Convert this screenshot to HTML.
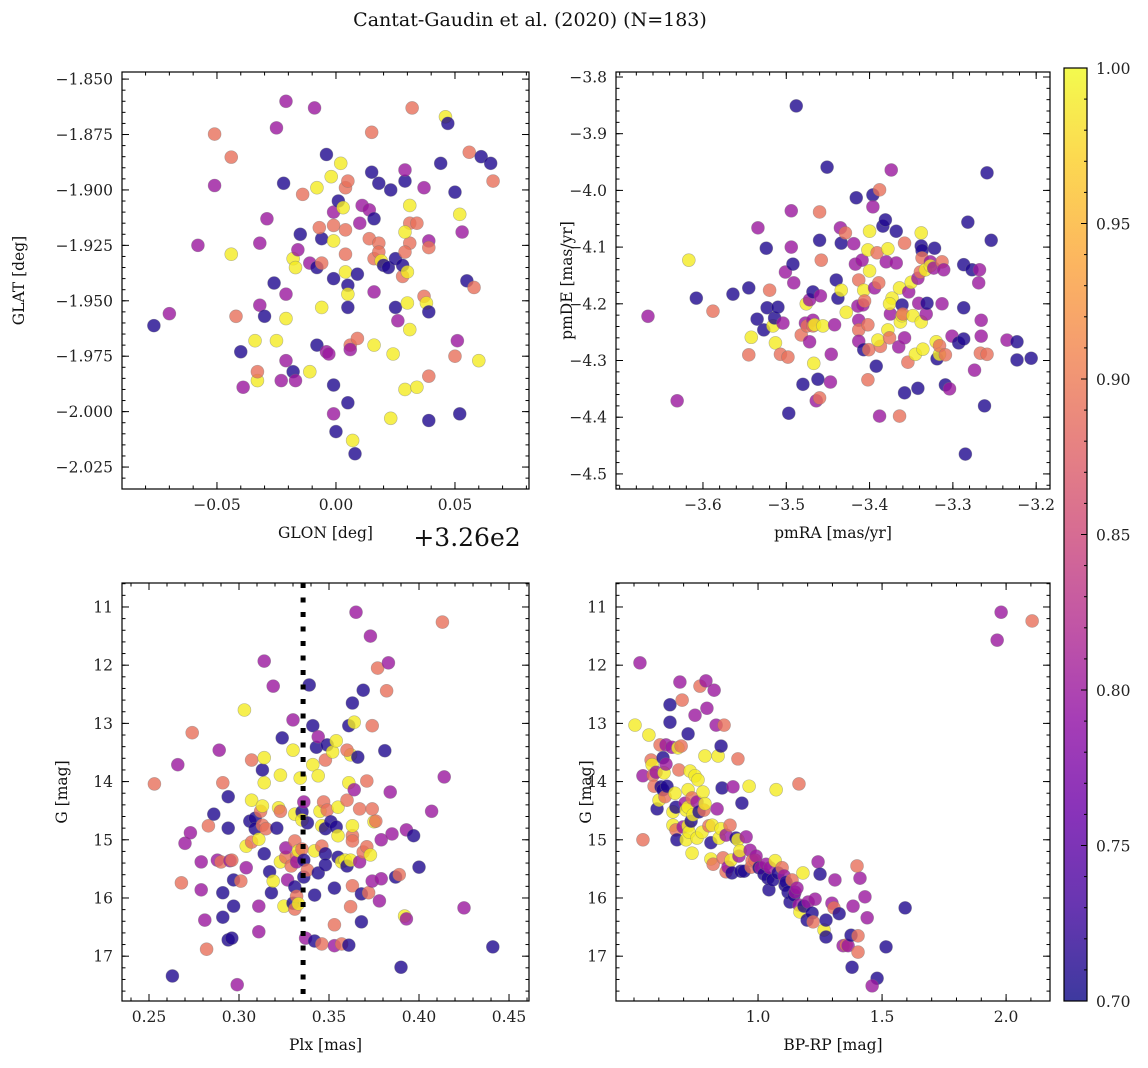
<!DOCTYPE html>
<html><head><meta charset="utf-8"><title>Cantat-Gaudin et al. (2020)</title>
<style>
html,body{margin:0;padding:0;background:#fff;}
svg{display:block;font-family:"DejaVu Serif","Liberation Serif",serif;}
</style></head>
<body>
<svg id="fig" width="1148" height="1068" viewBox="0 0 1148 1068" xmlns="http://www.w3.org/2000/svg">
<rect width="1148" height="1068" fill="#fff"/>
<text x="530" y="26" font-size="19" text-anchor="middle" fill="#111">Cantat-Gaudin et al. (2020) (N=183)</text>
</svg>
<script>
// ---------- Panel 1: GLON offset (deg, relative to 326) vs GLAT ----------
const glonOff=[-0.0765,-0.070,-0.051,-0.044,-0.051,-0.058,-0.044,-0.042,-0.040,-0.039,-0.034,-0.033,-0.033,-0.032,-0.030,-0.032,-0.029,-0.026,-0.025,-0.021,-0.025,-0.022,-0.021,-0.021,-0.021,-0.023,-0.018,-0.017,-0.018,-0.017,-0.016,-0.015,-0.014,-0.009,-0.011,-0.011,-0.008,-0.008,-0.008,-0.006,-0.006,-0.006,-0.007,-0.004,-0.004,-0.003,-0.001,-0.001,-0.001,-0.001,-0.002,-0.001,-0.001,0.000,0.001,0.002,0.004,0.005,0.003,0.004,0.004,0.004,0.005,0.005,0.005,0.006,0.006,0.005,0.007,0.008,0.009,0.009,0.010,0.011,0.014,0.015,0.015,0.014,0.016,0.016,0.016,0.016,0.018,0.018,0.018,0.019,0.020,0.022,0.023,0.023,0.024,0.025,0.025,0.026,0.028,0.029,0.029,0.028,0.030,0.030,0.031,0.031,0.029,0.031,0.031,0.029,0.029,0.032,0.034,0.034,0.037,0.037,0.038,0.039,0.039,0.039,0.039,0.039,0.044,0.046,0.047,0.050,0.051,0.050,0.052,0.053,0.052,0.055,0.056,0.058,0.061,0.060,0.065,0.066];
const glat=[-1.9612,-1.9558,-1.8748,-1.8852,-1.898,-1.925,-1.929,-1.957,-1.973,-1.989,-1.968,-1.986,-1.982,-1.952,-1.957,-1.924,-1.913,-1.942,-1.968,-1.860,-1.872,-1.897,-1.947,-1.958,-1.977,-1.986,-1.982,-1.986,-1.931,-1.935,-1.927,-1.920,-1.902,-1.863,-1.933,-1.982,-1.970,-1.935,-1.899,-1.933,-1.953,-1.922,-1.917,-1.884,-1.973,-1.974,-1.940,-1.988,-1.916,-1.910,-1.894,-1.923,-2.001,-2.009,-1.905,-1.888,-1.899,-1.896,-1.908,-1.918,-1.929,-1.937,-1.943,-1.947,-1.953,-1.970,-1.972,-1.996,-2.013,-2.019,-1.967,-1.938,-1.915,-1.907,-1.922,-1.874,-1.892,-1.909,-1.913,-1.931,-1.946,-1.970,-1.924,-1.897,-1.928,-1.932,-1.934,-1.935,-1.900,-2.003,-1.974,-1.931,-1.953,-1.959,-1.939,-1.896,-1.891,-1.934,-1.937,-1.951,-1.963,-1.924,-1.990,-1.907,-1.915,-1.919,-1.928,-1.863,-1.989,-1.915,-1.899,-1.948,-1.951,-1.923,-1.926,-1.984,-1.955,-2.004,-1.888,-1.867,-1.870,-1.901,-1.968,-1.975,-1.911,-1.919,-2.001,-1.941,-1.883,-1.944,-1.885,-1.977,-1.888,-1.896];
const prob1=[0.71,0.80,0.89,0.89,0.80,0.80,0.99,0.89,0.71,0.80,0.99,0.99,0.89,0.80,0.71,0.80,0.80,0.71,0.99,0.80,0.80,0.71,0.80,0.99,0.80,0.80,0.71,0.80,0.99,0.99,0.80,0.71,0.89,0.80,0.80,0.99,0.71,0.71,0.99,0.89,0.99,0.71,0.89,0.71,0.80,0.80,0.71,0.71,0.89,0.80,0.99,0.99,0.80,0.71,0.71,0.99,0.89,0.89,0.99,0.89,0.89,0.99,0.71,0.99,0.71,0.89,0.80,0.71,0.99,0.71,0.89,0.71,0.80,0.80,0.89,0.89,0.71,0.80,0.71,0.89,0.80,0.99,0.89,0.71,0.89,0.99,0.71,0.71,0.71,0.99,0.99,0.71,0.71,0.80,0.89,0.71,0.80,0.71,0.99,0.99,0.99,0.89,0.99,0.99,0.89,0.99,0.89,0.89,0.99,0.89,0.80,0.89,0.99,0.80,0.89,0.89,0.71,0.71,0.71,0.99,0.71,0.71,0.80,0.89,0.99,0.80,0.71,0.71,0.89,0.89,0.71,0.99,0.71,0.89];

// ---------- Panel 2: pmRA vs pmDE ----------
const pmra=[-3.631,-3.666,-3.617,-3.608,-3.588,-3.564,-3.545,-3.545,-3.542,-3.535,-3.534,-3.527,-3.524,-3.523,-3.520,-3.516,-3.514,-3.513,-3.510,-3.507,-3.504,-3.501,-3.498,-3.497,-3.494,-3.494,-3.492,-3.491,-3.488,-3.480,-3.477,-3.476,-3.482,-3.475,-3.472,-3.472,-3.468,-3.468,-3.468,-3.467,-3.466,-3.462,-3.464,-3.460,-3.459,-3.458,-3.456,-3.460,-3.460,-3.451,-3.447,-3.446,-3.440,-3.442,-3.438,-3.434,-3.434,-3.435,-3.429,-3.428,-3.419,-3.416,-3.413,-3.417,-3.414,-3.413,-3.413,-3.413,-3.409,-3.407,-3.407,-3.408,-3.406,-3.400,-3.402,-3.400,-3.402,-3.402,-3.401,-3.396,-3.396,-3.394,-3.392,-3.391,-3.387,-3.389,-3.390,-3.380,-3.388,-3.388,-3.384,-3.381,-3.378,-3.378,-3.376,-3.375,-3.373,-3.376,-3.374,-3.368,-3.368,-3.364,-3.363,-3.365,-3.364,-3.361,-3.361,-3.360,-3.354,-3.358,-3.358,-3.358,-3.353,-3.350,-3.348,-3.345,-3.342,-3.339,-3.338,-3.341,-3.342,-3.338,-3.337,-3.338,-3.336,-3.332,-3.331,-3.337,-3.333,-3.327,-3.327,-3.323,-3.322,-3.319,-3.320,-3.316,-3.316,-3.313,-3.311,-3.313,-3.309,-3.309,-3.304,-3.301,-3.293,-3.287,-3.287,-3.287,-3.285,-3.282,-3.277,-3.274,-3.269,-3.267,-3.268,-3.266,-3.266,-3.262,-3.259,-3.254,-3.259,-3.235,-3.223,-3.223,-3.206];
const pmde=[-4.371,-4.222,-4.123,-4.190,-4.213,-4.183,-4.290,-4.172,-4.259,-4.227,-4.066,-4.246,-4.102,-4.207,-4.176,-4.239,-4.225,-4.269,-4.206,-4.289,-4.234,-4.144,-4.294,-4.393,-4.100,-4.036,-4.130,-4.163,-3.851,-4.342,-4.234,-4.200,-4.255,-4.239,-4.193,-4.267,-4.179,-4.229,-4.239,-4.305,-4.237,-4.333,-4.371,-4.366,-4.186,-4.123,-4.239,-4.088,-4.038,-3.959,-4.338,-4.289,-4.158,-4.237,-4.190,-4.176,-4.093,-4.066,-4.075,-4.215,-4.094,-4.013,-4.158,-4.130,-4.204,-4.229,-4.246,-4.266,-4.123,-4.281,-4.176,-4.202,-4.195,-4.072,-4.105,-4.142,-4.237,-4.334,-4.281,-4.008,-4.029,-4.172,-4.310,-4.110,-4.275,-4.163,-4.264,-4.126,-4.398,-3.999,-4.063,-4.052,-4.103,-4.246,-4.260,-4.218,-4.190,-4.200,-3.964,-4.128,-4.072,-4.172,-4.232,-4.276,-4.398,-4.202,-4.221,-4.218,-4.303,-4.093,-4.357,-4.260,-4.179,-4.162,-4.221,-4.289,-4.155,-4.144,-4.098,-4.199,-4.349,-4.075,-4.106,-4.232,-4.280,-4.218,-4.199,-4.119,-4.140,-4.126,-4.133,-4.137,-4.102,-4.297,-4.267,-4.289,-4.274,-4.126,-4.140,-4.200,-4.290,-4.343,-4.350,-4.257,-4.269,-4.207,-4.131,-4.262,-4.465,-4.056,-4.140,-4.317,-4.163,-4.287,-4.140,-4.229,-4.257,-4.380,-4.289,-4.088,-3.969,-4.264,-4.267,-4.299,-4.296];
const prob2=[0.80,0.80,0.99,0.71,0.89,0.71,0.89,0.71,0.99,0.71,0.80,0.71,0.71,0.71,0.89,0.99,0.71,0.99,0.71,0.89,0.80,0.80,0.89,0.71,0.80,0.80,0.71,0.80,0.71,0.71,0.80,0.99,0.89,0.89,0.80,0.80,0.71,0.80,0.89,0.99,0.99,0.71,0.80,0.89,0.80,0.89,0.99,0.71,0.89,0.71,0.80,0.80,0.71,0.80,0.71,0.99,0.71,0.80,0.89,0.99,0.80,0.71,0.89,0.80,0.80,0.80,0.89,0.80,0.80,0.71,0.99,0.80,0.89,0.99,0.99,0.99,0.89,0.89,0.89,0.71,0.80,0.80,0.71,0.89,0.89,0.89,0.99,0.80,0.80,0.89,0.71,0.71,0.99,0.99,0.89,0.80,0.99,0.99,0.80,0.80,0.71,0.99,0.99,0.80,0.89,0.71,0.99,0.89,0.89,0.89,0.71,0.80,0.80,0.99,0.99,0.99,0.80,0.89,0.71,0.80,0.71,0.99,0.71,0.99,0.99,0.80,0.71,0.89,0.99,0.80,0.99,0.80,0.71,0.71,0.99,0.99,0.89,0.89,0.80,0.80,0.89,0.71,0.80,0.80,0.71,0.71,0.71,0.71,0.71,0.71,0.71,0.80,0.80,0.89,0.80,0.80,0.80,0.71,0.89,0.71,0.71,0.80,0.71,0.71,0.71];

// ---------- Panel 3: Plx vs G ----------
const plx=[0.253,0.266,0.270,0.268,0.274,0.273,0.279,0.279,0.281,0.282,0.283,0.286,0.288,0.289,0.291,0.290,0.291,0.294,0.294,0.295,0.296,0.299,0.294,0.296,0.297,0.291,0.297,0.301,0.303,0.304,0.304,0.306,0.307,0.307,0.307,0.309,0.309,0.311,0.311,0.311,0.313,0.314,0.312,0.314,0.315,0.313,0.313,0.314,0.314,0.317,0.318,0.319,0.319,0.321,0.322,0.323,0.323,0.324,0.323,0.326,0.325,0.326,0.327,0.329,0.330,0.330,0.331,0.330,0.331,0.332,0.332,0.332,0.331,0.331,0.333,0.333,0.334,0.335,0.335,0.335,0.336,0.336,0.336,0.337,0.338,0.338,0.339,0.341,0.341,0.342,0.342,0.342,0.343,0.344,0.344,0.345,0.346,0.344,0.346,0.348,0.346,0.348,0.347,0.348,0.348,0.349,0.349,0.351,0.352,0.353,0.353,0.353,0.354,0.354,0.355,0.355,0.355,0.357,0.357,0.359,0.360,0.361,0.363,0.360,0.361,0.362,0.362,0.362,0.361,0.360,0.363,0.363,0.363,0.363,0.364,0.364,0.366,0.367,0.368,0.367,0.368,0.369,0.369,0.371,0.371,0.372,0.373,0.374,0.374,0.373,0.374,0.375,0.376,0.377,0.378,0.379,0.379,0.381,0.382,0.383,0.384,0.385,0.387,0.389,0.390,0.392,0.393,0.393,0.397,0.400,0.407,0.413,0.414,0.425,0.441,0.365,0.263];
const gmag3=[14.04,13.71,15.06,15.74,13.16,14.88,15.38,15.86,16.38,16.88,14.76,14.56,15.35,13.46,14.02,15.38,16.33,16.72,14.80,15.36,16.69,17.49,14.26,15.35,15.69,15.91,16.14,15.71,12.77,15.11,15.48,14.68,15.04,13.63,14.32,14.63,14.81,14.99,16.14,16.58,14.75,14.02,14.51,15.24,14.81,14.42,13.80,11.93,13.59,15.55,15.91,15.71,12.36,14.80,14.45,15.38,14.51,13.25,13.89,15.30,16.14,15.14,15.69,15.45,16.09,13.46,15.81,12.94,14.56,15.28,15.38,15.97,16.19,15.02,16.10,15.19,13.94,14.52,15.16,14.66,15.64,14.35,15.35,16.69,15.52,14.71,12.34,13.04,13.71,15.19,15.95,16.74,13.41,13.23,13.90,14.51,14.76,15.57,16.79,14.81,15.11,15.24,14.35,15.43,13.63,14.49,13.37,14.69,13.49,15.83,16.82,16.46,13.30,14.78,14.44,15.30,14.93,15.38,16.79,15.35,15.45,13.04,15.79,14.32,14.02,13.54,15.35,16.15,16.81,13.46,14.93,14.76,12.65,15.02,14.14,12.98,13.58,14.47,16.41,15.38,15.93,15.21,12.43,13.99,15.12,15.91,15.26,14.47,13.04,11.50,15.71,14.69,14.68,12.05,16.05,15.67,15.00,13.47,12.44,11.96,14.18,14.90,15.64,15.60,17.19,16.31,16.36,14.83,14.93,15.47,14.51,11.26,13.92,16.17,16.84,11.09,17.34];
const prob3=[0.89,0.80,0.80,0.89,0.89,0.80,0.80,0.80,0.80,0.89,0.89,0.71,0.80,0.80,0.89,0.89,0.71,0.71,0.71,0.80,0.71,0.80,0.71,0.89,0.71,0.71,0.71,0.89,0.99,0.99,0.80,0.71,0.89,0.89,0.99,0.71,0.71,0.99,0.80,0.80,0.89,0.99,0.89,0.71,0.89,0.99,0.71,0.80,0.99,0.71,0.71,0.99,0.80,0.71,0.99,0.99,0.89,0.71,0.99,0.89,0.99,0.80,0.80,0.89,0.71,0.99,0.71,0.80,0.99,0.89,0.80,0.89,0.89,0.89,0.99,0.99,0.99,0.71,0.89,0.99,0.71,0.80,0.71,0.80,0.89,0.71,0.71,0.71,0.99,0.99,0.71,0.71,0.71,0.80,0.99,0.99,0.99,0.71,0.89,0.71,0.89,0.71,0.89,0.71,0.89,0.89,0.71,0.71,0.99,0.71,0.80,0.89,0.99,0.71,0.99,0.71,0.99,0.99,0.89,0.99,0.71,0.71,0.89,0.89,0.99,0.99,0.99,0.89,0.71,0.89,0.89,0.99,0.71,0.89,0.80,0.99,0.71,0.89,0.71,0.80,0.71,0.89,0.71,0.89,0.89,0.89,0.99,0.89,0.89,0.80,0.80,0.99,0.89,0.89,0.80,0.80,0.80,0.71,0.89,0.80,0.80,0.80,0.71,0.89,0.71,0.99,0.80,0.80,0.71,0.71,0.80,0.89,0.80,0.80,0.71,0.80,0.71];
const plxLine=[0.3356];

// ---------- Panel 4: BP-RP vs G ----------
const bprp=[0.504,0.524,0.536,0.536,0.560,0.569,0.573,0.577,0.581,0.589,0.593,0.601,0.605,0.609,0.617,0.617,0.621,0.625,0.629,0.629,0.633,0.645,0.645,0.653,0.657,0.657,0.665,0.669,0.669,0.673,0.677,0.681,0.685,0.690,0.694,0.698,0.706,0.710,0.710,0.718,0.718,0.718,0.718,0.722,0.726,0.730,0.734,0.734,0.738,0.746,0.746,0.754,0.754,0.758,0.762,0.766,0.774,0.778,0.782,0.786,0.786,0.790,0.794,0.802,0.810,0.810,0.815,0.819,0.823,0.831,0.839,0.835,0.843,0.851,0.851,0.855,0.859,0.863,0.871,0.871,0.879,0.887,0.891,0.895,0.899,0.911,0.919,0.919,0.923,0.927,0.931,0.935,0.944,0.952,0.964,0.968,0.972,0.976,0.988,0.992,1.004,1.012,1.024,1.032,1.040,1.044,1.048,1.060,1.069,1.073,1.081,1.097,1.105,1.109,1.113,1.121,1.129,1.137,1.145,1.149,1.157,1.165,1.169,1.181,1.185,1.198,1.202,1.218,1.222,1.230,1.242,1.250,1.266,1.274,1.298,1.306,1.310,1.327,1.343,1.355,1.363,1.375,1.379,1.403,1.403,1.411,1.399,1.480,1.431,1.460,1.516,1.593,1.440,1.383,1.165,1.274,1.964,1.980,2.105];
const gmag4=[13.03,11.96,13.90,15.00,13.20,13.63,13.71,13.89,14.08,13.84,14.47,14.32,13.37,14.09,13.59,14.14,13.85,14.26,13.37,13.70,14.08,12.68,12.98,13.41,14.52,14.75,14.20,14.44,14.83,15.00,13.42,13.80,12.29,13.39,12.60,14.78,14.37,15.00,14.49,14.76,14.44,14.14,13.18,14.87,13.82,14.68,15.23,14.28,14.57,13.90,12.86,14.35,14.97,13.97,14.52,12.36,14.87,14.18,14.49,13.56,14.38,12.27,12.74,14.76,15.33,15.05,14.75,15.42,12.43,13.03,13.56,14.47,14.97,14.81,13.39,14.11,15.31,13.03,14.92,15.55,15.47,14.75,15.35,15.57,14.09,14.97,15.00,13.61,15.28,15.19,15.54,14.37,15.54,14.95,14.08,15.18,15.47,15.36,15.35,15.28,15.48,15.48,15.59,15.42,15.66,15.86,15.48,15.69,15.36,14.14,15.57,15.48,15.62,15.78,15.73,15.90,16.07,15.69,15.95,15.90,15.83,16.12,16.24,15.57,16.14,16.38,16.07,16.26,16.41,16.02,15.38,15.59,16.55,16.38,16.09,16.17,15.69,16.27,16.82,16.81,16.82,16.64,17.19,16.65,16.93,15.66,15.45,17.38,15.98,17.51,16.84,16.17,16.34,16.14,14.04,16.67,11.57,11.09,11.24];
const prob4=[0.99,0.80,0.80,0.89,0.99,0.89,0.99,0.89,0.89,0.80,0.71,0.99,0.89,0.71,0.71,0.71,0.99,0.89,0.80,0.80,0.71,0.71,0.71,0.80,0.99,0.99,0.99,0.71,0.89,0.71,0.99,0.89,0.80,0.89,0.89,0.80,0.80,0.99,0.99,0.99,0.99,0.99,0.71,0.99,0.99,0.71,0.99,0.89,0.99,0.99,0.80,0.80,0.99,0.99,0.71,0.89,0.99,0.99,0.89,0.99,0.99,0.80,0.80,0.89,0.99,0.71,0.99,0.89,0.80,0.80,0.99,0.80,0.99,0.99,0.71,0.71,0.89,0.89,0.80,0.89,0.80,0.89,0.99,0.71,0.80,0.71,0.99,0.89,0.80,0.99,0.71,0.71,0.71,0.80,0.99,0.80,0.89,0.89,0.89,0.80,0.71,0.80,0.71,0.80,0.71,0.71,0.80,0.71,0.99,0.99,0.71,0.89,0.80,0.71,0.71,0.71,0.71,0.89,0.71,0.80,0.80,0.80,0.99,0.99,0.71,0.71,0.80,0.71,0.89,0.80,0.80,0.71,0.99,0.71,0.80,0.89,0.80,0.71,0.80,0.89,0.80,0.71,0.71,0.89,0.89,0.80,0.89,0.71,0.80,0.80,0.71,0.71,0.80,0.80,0.89,0.71,0.80,0.80,0.89];

// ---------- Colorbar ticks ----------
const cbarTicks=[0.70,0.75,0.80,0.85,0.90,0.95,1.00];

const NS="http://www.w3.org/2000/svg";
const svg=document.getElementById('fig');
function mk(tag,attrs,parent){const e=document.createElementNS(NS,tag);for(const k in attrs)e.setAttribute(k,attrs[k]);(parent||svg).appendChild(e);return e;}

const plasma=[[13,8,135],[65,4,157],[106,0,168],[143,13,164],[177,42,144],[204,71,120],[225,100,98],[242,132,75],[252,166,54],[252,206,37],[240,249,33]];
function cmap(p){let t=(p-0.7)/0.3;t=Math.max(0,Math.min(1,t));const f=t*10;const i=Math.min(9,Math.floor(f));const r=f-i;const a=plasma[i],b=plasma[i+1];
 return 'rgb('+[0,1,2].map(k=>Math.round(a[k]+(b[k]-a[k])*r)).join(',')+')';}
function fmt(v,d){const s=Math.abs(v).toFixed(d);return (v<-1e-9?'\u2212':'')+s;}

function panel(c){
  const g=mk('g',{});
  
  
  const sx=v=>c.x0+(v-c.xmin)/(c.xmax-c.xmin)*(c.x1-c.x0);
  const sy=v=>c.y1-(v-c.yb)/(c.yt-c.yb)*(c.y1-c.y0);
  const clip=mk('clipPath',{id:'clip-'+c.name},g);
  mk('rect',{x:c.x0,y:c.y0,width:c.x1-c.x0,height:c.y1-c.y0},clip);
  const pts=mk('g',{'clip-path':'url(#clip-'+c.name+')'},g);
  
  
  for(let i=0;i<c.xs.length;i++){
    const col=cmap(c.ps[i]);
    const dot=mk('circle',{cx:sx(c.xs[i]),cy:sy(c.ys[i]),r:6.5,fill:col,'fill-opacity':0.8,stroke:'#777','stroke-opacity':0.5,'stroke-width':0.6},pts);
    
    
  }
  if(c.vline){c.vline.forEach(v=>{const l=mk('line',{x1:sx(v),x2:sx(v),y1:c.y0,y2:c.y1,stroke:'#000','stroke-width':5,'stroke-dasharray':'5 9.5'},pts);
    
    });}
  // ticks
  const tk=mk('g',{stroke:'#000','stroke-width':1},g);
  function ticks(min,max,step,fn){const a=Math.ceil(min/step-1e-6),b=Math.floor(max/step+1e-6);for(let k=a;k<=b;k++)fn(+(k*step).toFixed(6));}
  ticks(c.xmin,c.xmax,c.xminor,v=>{const x=sx(v);mk('line',{x1:x,x2:x,y1:c.y1,y2:c.y1-3.5},tk);mk('line',{x1:x,x2:x,y1:c.y0,y2:c.y0+3.5},tk);});
  ticks(Math.min(c.yb,c.yt),Math.max(c.yb,c.yt),c.yminor,v=>{const y=sy(v);mk('line',{x1:c.x0,x2:c.x0+3.5,y1:y,y2:y},tk);mk('line',{x1:c.x1,x2:c.x1-3.5,y1:y,y2:y},tk);});
  c.xticks.forEach(v=>{const x=sx(v);mk('line',{x1:x,x2:x,y1:c.y1,y2:c.y1-7},tk);mk('line',{x1:x,x2:x,y1:c.y0,y2:c.y0+7},tk);
    const t=mk('text',{x:x,y:c.y1+21,'font-size':15.5,'text-anchor':'middle',fill:'#222'},g);t.textContent=fmt(v,c.xd);
    });
  c.yticks.forEach(v=>{const y=sy(v);mk('line',{x1:c.x0,x2:c.x0+7,y1:y,y2:y},tk);mk('line',{x1:c.x1,x2:c.x1-7,y1:y,y2:y},tk);
    const t=mk('text',{x:c.x0-9,y:y+5.5,'font-size':15.5,'text-anchor':'end',fill:'#222'},g);t.textContent=fmt(v,c.yd);
    });
  const fr=mk('rect',{x:c.x0,y:c.y0,width:c.x1-c.x0,height:c.y1-c.y0,fill:'none',stroke:'#000','stroke-width':1.2},g);
  
  const xl=mk('text',{x:(c.x0+c.x1)/2,y:c.y1+49,'font-size':15.5,'text-anchor':'middle',fill:'#111'},g);xl.textContent=c.xlabel;
  
  const yx=c.ylx,yy=(c.y0+c.y1)/2;
  const yl=mk('text',{x:yx,y:yy,'font-size':15.5,'text-anchor':'middle',fill:'#111',transform:'rotate(-90 '+yx+' '+yy+')'},g);yl.textContent=c.ylabel;
  
}

panel({name:'glon-glat-panel',x0:122,x1:529,y0:72,y1:489,xmin:-0.0899,xmax:0.0811,yb:-2.0349,yt:-1.8468,
 xs:glonOff,ys:glat,ps:prob1,xticks:[-0.05,0,0.05],xd:2,xminor:0.01,yticks:[-1.85,-1.875,-1.9,-1.925,-1.95,-1.975,-2.0,-2.025],yd:3,yminor:0.005,
 xlabel:'GLON [deg]',ylabel:'GLAT [deg]',ylx:24});
panel({name:'proper-motion-panel',x0:616,x1:1050,y0:72,y1:489,xmin:-3.7044,xmax:-3.1834,yb:-4.5266,yt:-3.7912,
 xs:pmra,ys:pmde,ps:prob2,xticks:[-3.6,-3.5,-3.4,-3.3,-3.2],xd:1,xminor:0.02,yticks:[-3.8,-3.9,-4.0,-4.1,-4.2,-4.3,-4.4,-4.5],yd:1,yminor:0.02,
 xlabel:'pmRA [mas/yr]',ylabel:'pmDE [mas/yr]',ylx:572});
panel({name:'parallax-panel',x0:122,x1:529,y0:583,y1:1001,xmin:0.235,xmax:0.4611,yb:17.77,yt:10.588,
 xs:plx,ys:gmag3,ps:prob3,vline:plxLine,xticks:[0.25,0.30,0.35,0.40,0.45],xd:2,xminor:0.01,yticks:[11,12,13,14,15,16,17],yd:0,yminor:0.2,
 xlabel:'Plx [mas]',ylabel:'G [mag]',ylx:67});
panel({name:'cmd-panel',x0:616,x1:1050,y0:583,y1:1001,xmin:0.4274,xmax:2.177,yb:17.77,yt:10.588,
 xs:bprp,ys:gmag4,ps:prob4,xticks:[1.0,1.5,2.0],xd:1,xminor:0.1,yticks:[11,12,13,14,15,16,17],yd:0,yminor:0.2,
 xlabel:'BP-RP [mag]',ylabel:'G [mag]',ylx:591});

// offset text
const off=mk('text',{x:467,y:546,'font-size':25,'text-anchor':'middle',fill:'#111'});off.textContent='+3.26e2';



// colorbar
const defs=mk('defs',{});
const grad=mk('linearGradient',{id:'cbg',x1:0,y1:1,x2:0,y2:0},defs);
plasma.forEach((c,i)=>mk('stop',{offset:i/10,'stop-color':'rgb('+c.join(',')+')','stop-opacity':0.8},grad));
const cb={x0:1064,x1:1087,y0:68,y1:1001,min:0.7,max:1.0};
const cy=v=>cb.y1-(v-cb.min)/(cb.max-cb.min)*(cb.y1-cb.y0);
const cbr=mk('rect',{x:cb.x0,y:cb.y0,width:cb.x1-cb.x0,height:cb.y1-cb.y0,fill:'url(#cbg)',stroke:'#000','stroke-width':1.2});


for(let k=70;k<=100;k++){const y=cy(k/100);const major=k%5===0;mk('line',{x1:cb.x1,x2:cb.x1-(major?6:3),y1:y,y2:y,stroke:'#000','stroke-width':1});}
cbarTicks.forEach(v=>{const t=mk('text',{x:cb.x1+9,y:cy(v)+6,'font-size':15.5,fill:'#222'});t.textContent=v.toFixed(2);
 
 });
</script>
</body></html>
